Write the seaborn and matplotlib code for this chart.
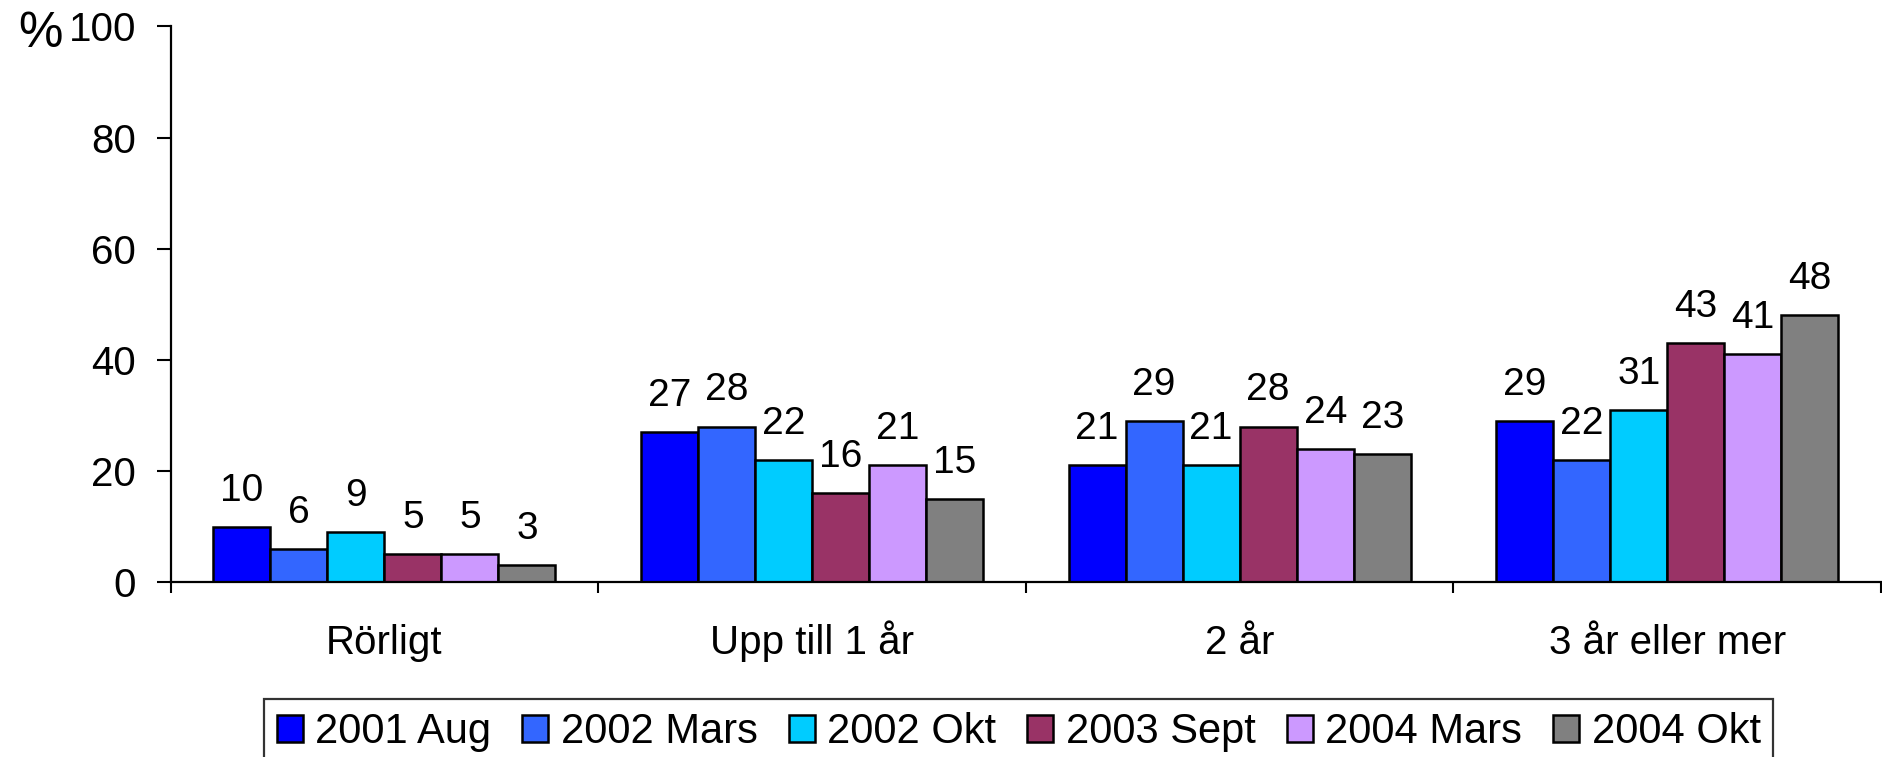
import matplotlib.pyplot as plt
import pandas as pd
import seaborn as sns
from matplotlib.ticker import FixedLocator

categories = ["Rörligt", "Upp till 1 år", "2 år", "3 år eller mer"]
periods = ["2001 Aug", "2002 Mars", "2002 Okt", "2003 Sept", "2004 Mars", "2004 Okt"]
values = {
    "2001 Aug": [10, 27, 21, 29],
    "2002 Mars": [6, 28, 29, 22],
    "2002 Okt": [9, 22, 21, 31],
    "2003 Sept": [5, 16, 28, 43],
    "2004 Mars": [5, 21, 24, 41],
    "2004 Okt": [3, 15, 23, 48],
}
colors = ["#0000FF", "#3366FF", "#00CCFF", "#993366", "#CC99FF", "#808080"]

rows = []
for p in periods:
    for c, v in zip(categories, values[p]):
        rows.append({"kategori": c, "period": p, "andel": v})
df = pd.DataFrame(rows)

sns.set_style("ticks")
plt.rcParams["font.family"] = ["Liberation Sans", "DejaVu Sans"]
plt.rcParams["text.color"] = "black"
plt.rcParams["xtick.color"] = "black"
plt.rcParams["ytick.color"] = "black"

fig = plt.figure(figsize=(18.83, 7.57), dpi=100)
ax = fig.add_axes([0.0906, 0.231, 0.9084, 0.734])

sns.barplot(
    data=df,
    x="kategori",
    y="andel",
    hue="period",
    hue_order=periods,
    order=categories,
    palette=dict(zip(periods, colors)),
    width=0.8,
    edgecolor="black",
    linewidth=1.8,
    saturation=1,
    ax=ax,
)

for container in ax.containers:
    ax.bar_label(container, fmt="%.0f", padding=13, fontsize=28, color="black")

ax.set_ylim(0, 100)
ax.set_xlim(-0.5, 3.5)
ax.set_yticks([0, 20, 40, 60, 80, 100])
ax.tick_params(axis="y", labelsize=29, length=10, width=1.5, direction="out", pad=15)
ax.tick_params(axis="x", which="major", labelsize=29, length=0, pad=52)
ax.xaxis.set_minor_locator(FixedLocator([-0.5, 0.5, 1.5, 2.5, 3.5]))
ax.tick_params(axis="x", which="minor", length=8, width=1.5, direction="out")
for lbl in ax.get_xticklabels():
    lbl.set_verticalalignment("baseline")
ax.set_xlabel("")
ax.set_ylabel("")

sns.despine(ax=ax)
for side in ["left", "bottom"]:
    ax.spines[side].set_linewidth(1.6)
    ax.spines[side].set_color("black")

fig.text(0.0096, 0.985, "%", fontsize=36, va="top", ha="left")

handles, labels = ax.get_legend_handles_labels()
ax.legend_.remove()
leg = fig.legend(
    handles,
    labels,
    loc="lower center",
    bbox_to_anchor=(0.541, -0.037),
    ncol=6,
    frameon=True,
    fancybox=False,
    edgecolor="black",
    prop={"family": ["Liberation Sans Narrow", "Liberation Sans"], "size": 30},
    handlelength=0.62,
    handleheight=0.62,
    handletextpad=0.3,
    columnspacing=0.75,
    borderpad=0.3,
)
leg.get_frame().set_linewidth(1.6)

fig.savefig("out.png", dpi=100)
